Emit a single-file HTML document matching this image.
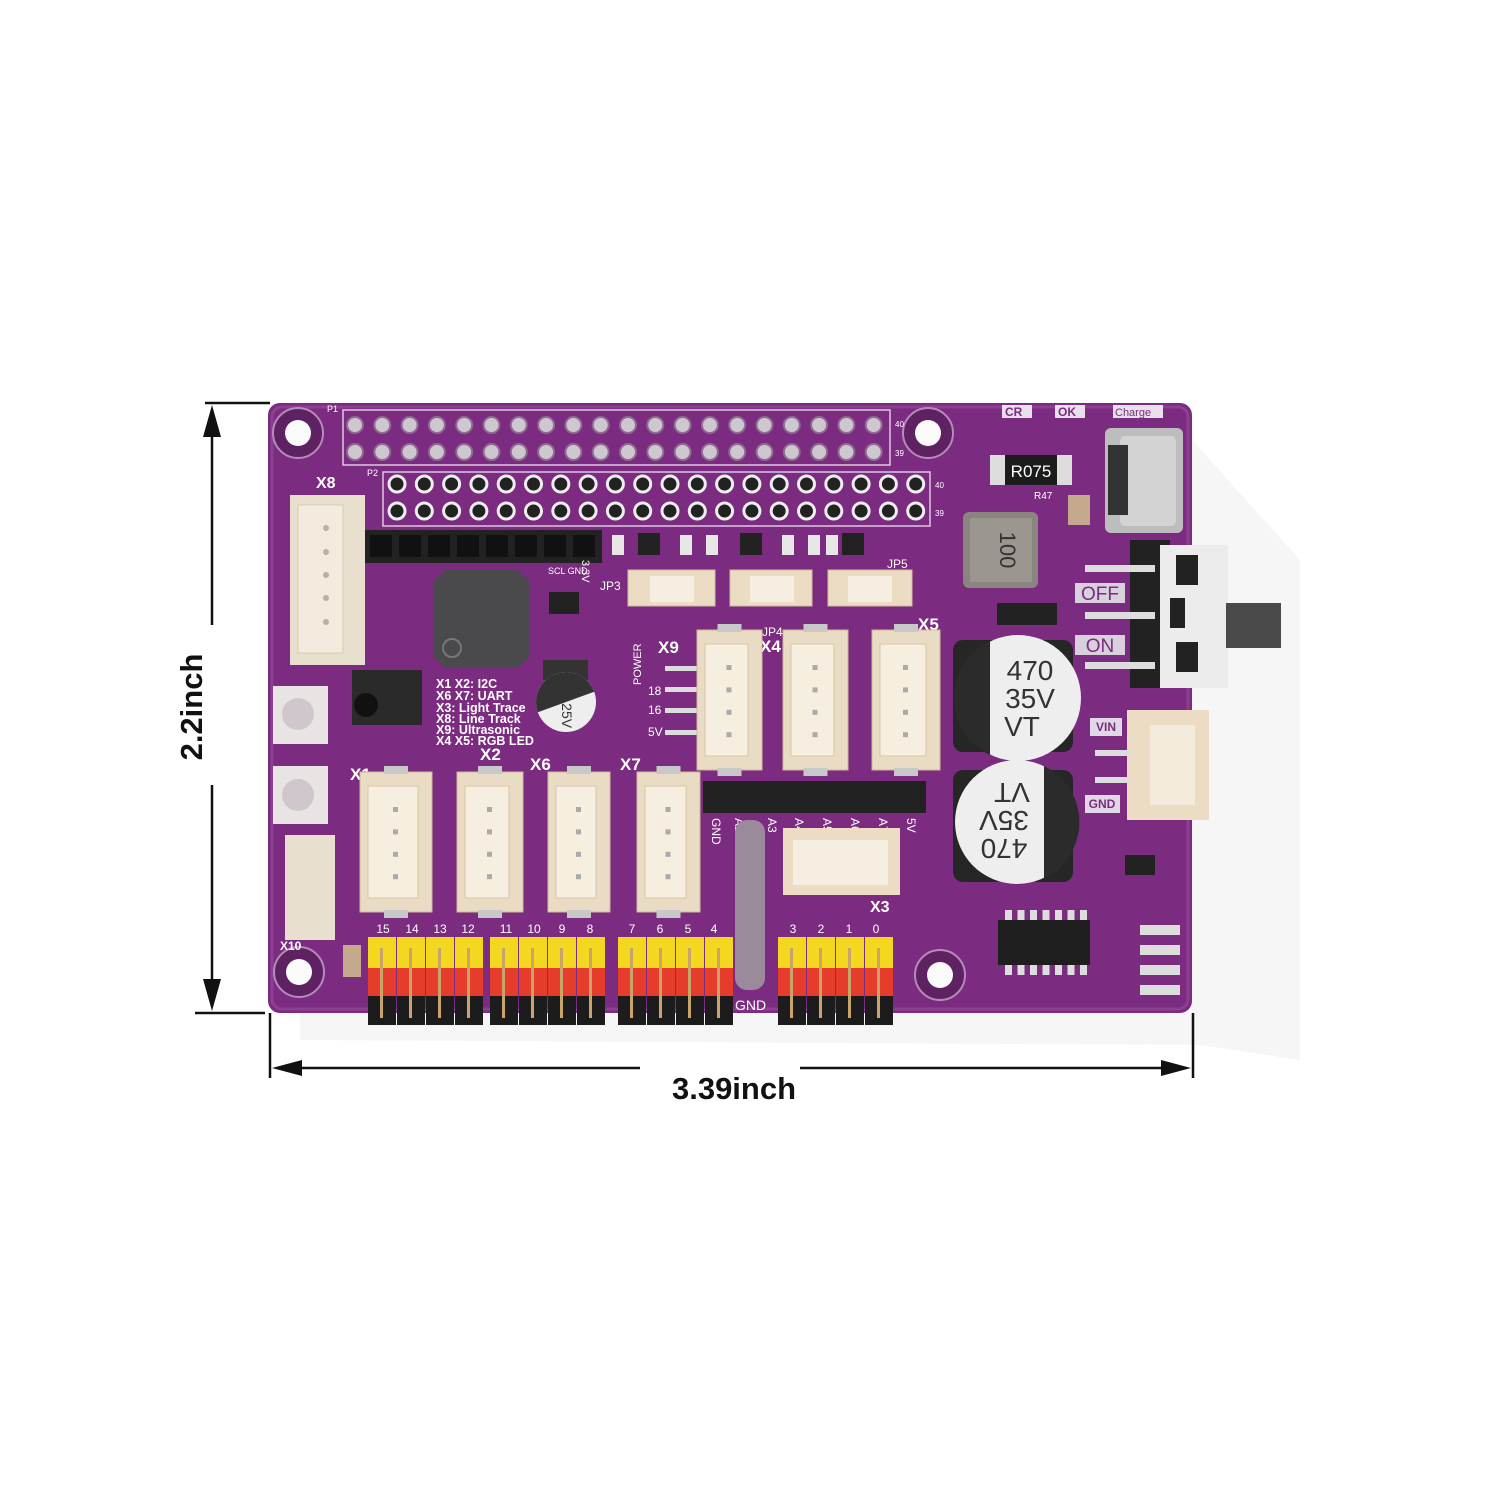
<!DOCTYPE html>
<html><head><meta charset="utf-8"><style>
html,body{margin:0;padding:0;background:#fff;}
svg{display:block}
text{font-family:"Liberation Sans",sans-serif;}
</style></head><body>
<svg id="s" width="1500" height="1500" viewBox="0 0 1500 1500" xmlns="http://www.w3.org/2000/svg">
<!-- shadow -->
<polygon points="1192,440 1300,560 1300,1060 1200,1045 300,1040 300,1013 1192,1013" fill="#f6f6f6"/>
<!-- board -->
<rect x="268" y="403" width="924" height="610" rx="12" fill="#7b2b80"/>
<rect x="272" y="407" width="916" height="602" rx="10" fill="none" stroke="#8e3f92" stroke-width="3"/>
<!-- mounting holes -->
<g fill="#5e2262" stroke="#b58cb8" stroke-width="2">
<circle cx="298" cy="433" r="25"/><circle cx="928" cy="433" r="25"/><circle cx="299" cy="972" r="25"/><circle cx="940" cy="975" r="25"/></g>
<g fill="#fafafa"><circle cx="298" cy="433" r="13"/><circle cx="928" cy="433" r="13"/><circle cx="299" cy="972" r="13"/><circle cx="940" cy="975" r="13"/></g>
<!-- P1 / P2 outlines -->
<rect x="343" y="410" width="547" height="55" fill="none" stroke="#e0c8e2" stroke-width="1.5"/>
<rect x="383" y="472" width="547" height="54" fill="none" stroke="#e0c8e2" stroke-width="1.5"/>
<text x="327" y="412" font-size="9" fill="#fff">P1</text><text x="367" y="476" font-size="9" fill="#fff">P2</text>
<text x="895" y="427" font-size="8" fill="#fff">40</text><text x="895" y="456" font-size="8" fill="#fff">39</text>
<text x="935" y="488" font-size="8" fill="#fff">40</text><text x="935" y="516" font-size="8" fill="#fff">39</text>
<g id="pins"></g>
<!-- black female header -->
<rect x="365" y="530" width="237" height="33" fill="#222"/>
<g id="fh"></g>
<text x="548" y="574" font-size="9" fill="#fff">SCL GND</text>
<text x="582" y="560" font-size="11" fill="#fff" transform="rotate(90 582 560)">3.3V</text>
<!-- X8 connector -->
<text x="316" y="488" font-size="16" font-weight="bold" fill="#fff">X8</text>
<rect x="290" y="495" width="75" height="170" fill="#e9dfcf"/>
<rect x="298" y="505" width="45" height="148" fill="#f3ebdd" stroke="#d8c9b2"/>
<g fill="#b8b0a0"><circle cx="326" cy="528" r="3"/><circle cx="326" cy="552" r="3"/><circle cx="326" cy="575" r="3"/><circle cx="326" cy="598" r="3"/><circle cx="326" cy="622" r="3"/></g>
<!-- buzzer -->
<polygon points="445,570 518,570 530,582 530,656 518,668 445,668 433,656 433,582" fill="#4a4a4c"/>
<circle cx="452" cy="648" r="9" fill="none" stroke="#777" stroke-width="2"/>
<!-- small IR -->
<rect x="352" y="670" width="70" height="55" fill="#2a2a2a"/><circle cx="366" cy="705" r="12" fill="#111"/>
<!-- RGB LEDs left -->
<rect x="273" y="686" width="55" height="58" fill="#e8e4e4"/><circle cx="298" cy="714" r="16" fill="#cfc7cc"/>
<rect x="273" y="766" width="55" height="58" fill="#e8e4e4"/><circle cx="298" cy="795" r="16" fill="#cfc7cc"/>
<!-- X10 -->
<rect x="285" y="835" width="50" height="105" fill="#e9dfcf"/>
<text x="280" y="950" font-size="12" font-weight="bold" fill="#fff">X10</text>
<!-- text block -->
<g font-size="12.5" font-weight="bold" fill="#fff">
<text x="436" y="688">X1 X2: I2C</text><text x="436" y="700">X6 X7: UART</text>
<text x="436" y="712">X3: Light Trace</text><text x="436" y="723">X8: Line Track</text>
<text x="436" y="734">X9: Ultrasonic</text><text x="436" y="745">X4 X5: RGB LED</text></g>
<!-- cap 100 -->
<rect x="543" y="660" width="45" height="20" fill="#333"/>
<circle cx="566" cy="702" r="30" fill="#eee"/>
<path d="M536,702 A30,30 0 0 1 596,702 Z" fill="#333" transform="rotate(-20 566 702)"/>
<text x="566" y="706" font-size="14" fill="#333" text-anchor="middle" transform="rotate(90 566 702)">100 25V</text>
<!-- JP connectors -->
<g fill="#ecdcc3" stroke="#d0bb9c">
<rect x="628" y="570" width="87" height="36"/><rect x="730" y="570" width="82" height="36"/><rect x="828" y="570" width="84" height="36"/></g>
<g fill="#f6eee0"><rect x="650" y="576" width="44" height="26"/><rect x="750" y="576" width="44" height="26"/><rect x="848" y="576" width="44" height="26"/></g>
<text x="600" y="590" font-size="12" fill="#fff">JP3</text><text x="762" y="636" font-size="12" fill="#fff">JP4</text><text x="887" y="568" font-size="12" fill="#fff">JP5</text>
<!-- SMD small parts -->
<g fill="#222"><rect x="638" y="533" width="22" height="22"/><rect x="740" y="533" width="22" height="22"/><rect x="842" y="533" width="22" height="22"/><rect x="549" y="592" width="30" height="22"/></g>
<g fill="#e7e7e7"><rect x="612" y="535" width="12" height="20"/><rect x="680" y="535" width="12" height="20"/><rect x="706" y="535" width="12" height="20"/><rect x="782" y="535" width="12" height="20"/><rect x="808" y="535" width="12" height="20"/><rect x="826" y="535" width="12" height="20"/></g>
<!-- POWER and side pins -->
<text x="641" y="685" font-size="11" fill="#fff" transform="rotate(-90 641 685)">POWER</text>
<text x="648" y="695" font-size="12" fill="#fff">18</text><text x="648" y="714" font-size="12" fill="#fff">16</text><text x="648" y="736" font-size="12" fill="#fff">5V</text>
<g fill="#ddd"><rect x="665" y="666" width="35" height="5"/><rect x="665" y="687" width="35" height="5"/><rect x="665" y="708" width="35" height="5"/><rect x="665" y="730" width="35" height="5"/></g>
<!-- X9 X4 X5 -->
<text x="658" y="653" font-size="17" font-weight="bold" fill="#fff">X9</text>
<text x="760" y="652" font-size="17" font-weight="bold" fill="#fff">X4</text>
<text x="918" y="630" font-size="17" font-weight="bold" fill="#fff">X5</text>
<g id="conns"></g>
<!-- black 8 pin header -->
<rect x="703" y="781" width="223" height="32" fill="#222"/>
<g font-size="12" fill="#fff">
<text x="712" y="818" transform="rotate(90 712 818)">GND</text><text x="735" y="818" transform="rotate(90 735 818)">A2</text>
<text x="768" y="818" transform="rotate(90 768 818)">A3</text><text x="795" y="818" transform="rotate(90 795 818)">A4</text>
<text x="823" y="818" transform="rotate(90 823 818)">A5</text><text x="851" y="818" transform="rotate(90 851 818)">A6</text>
<text x="879" y="818" transform="rotate(90 879 818)">A7</text><text x="907" y="818" transform="rotate(90 907 818)">5V</text></g>
<rect x="735" y="820" width="30" height="170" rx="12" fill="#9a8a9c"/>
<!-- X3 -->
<rect x="783" y="828" width="117" height="67" fill="#ecdcc3"/><rect x="793" y="840" width="95" height="45" fill="#f6eee0"/>
<text x="870" y="912" font-size="16" font-weight="bold" fill="#fff">X3</text>
<!-- inductor, R075 -->
<rect x="963" y="512" width="75" height="76" rx="6" fill="#8a8580"/><rect x="970" y="518" width="62" height="64" fill="#9b9690"/>
<text x="1000" y="550" font-size="22" fill="#333" text-anchor="middle" transform="rotate(90 1000 550)">100</text>
<rect x="990" y="455" width="82" height="30" fill="#ddd"/><rect x="1005" y="455" width="52" height="30" fill="#1c1c1c"/>
<text x="1031" y="477" font-size="17" fill="#fff" text-anchor="middle">R075</text>
<rect x="997" y="603" width="60" height="22" fill="#222"/>
<!-- labels top right -->
<rect x="1002" y="405" width="30" height="13" fill="#e8e0ea"/><text x="1005" y="416" font-size="12" fill="#7b2b80" font-weight="bold">CR</text>
<rect x="1055" y="405" width="30" height="13" fill="#e8e0ea"/><text x="1058" y="416" font-size="12" fill="#7b2b80" font-weight="bold">OK</text>
<rect x="1113" y="405" width="50" height="13" fill="#e8e0ea"/><text x="1115" y="416" font-size="11" fill="#7b2b80">Charge</text>
<text x="1034" y="499" font-size="10" fill="#fff">R47</text>
<!-- USB-C -->
<rect x="1105" y="428" width="78" height="105" rx="6" fill="#bdbdbd"/><rect x="1120" y="436" width="56" height="90" rx="5" fill="#d3d3d3"/>
<rect x="1108" y="445" width="20" height="70" fill="#333"/>
<rect x="1068" y="495" width="22" height="30" fill="#c4a98c"/>
<!-- switch -->
<rect x="1130" y="540" width="40" height="148" fill="#222"/>
<rect x="1160" y="545" width="68" height="143" fill="#ececec"/>
<rect x="1176" y="555" width="22" height="30" fill="#222"/><rect x="1176" y="642" width="22" height="30" fill="#222"/>
<rect x="1170" y="598" width="15" height="30" fill="#222"/>
<rect x="1226" y="603" width="55" height="45" fill="#4a4a4a"/>
<g fill="#ddd"><rect x="1085" y="565" width="70" height="7"/><rect x="1085" y="612" width="70" height="7"/><rect x="1085" y="662" width="70" height="7"/></g>
<rect x="1075" y="583" width="50" height="20" fill="#d8d0dc"/><text x="1100" y="600" font-size="19" fill="#7b2b80" text-anchor="middle">OFF</text>
<rect x="1075" y="635" width="50" height="20" fill="#d8d0dc"/><text x="1100" y="652" font-size="19" fill="#7b2b80" text-anchor="middle">ON</text>
<!-- big caps -->
<rect x="953" y="640" width="120" height="112" rx="10" fill="#262626"/>
<rect x="953" y="770" width="120" height="112" rx="10" fill="#262626"/>
<circle cx="1018" cy="698" r="63" fill="#eee"/><path d="M990,641 A63,63 0 0 0 990,755 Z" fill="#2b2b2b"/>
<text x="1030" y="680" font-size="28" fill="#333" text-anchor="middle">470</text><text x="1030" y="708" font-size="28" fill="#333" text-anchor="middle">35V</text><text x="1022" y="736" font-size="28" fill="#333" text-anchor="middle">VT</text>
<circle cx="1017" cy="822" r="62" fill="#eee"/><path d="M1044,766 A62,62 0 0 1 1044,878 Z" fill="#2b2b2b"/>
<g transform="rotate(180 1017 822)"><text x="1030" y="805" font-size="28" fill="#333" text-anchor="middle">470</text><text x="1030" y="833" font-size="28" fill="#333" text-anchor="middle">35V</text><text x="1022" y="861" font-size="28" fill="#333" text-anchor="middle">VT</text></g>
<!-- VIN connector -->
<rect x="1090" y="718" width="32" height="18" fill="#e0d8e4"/><text x="1106" y="731" font-size="12" font-weight="bold" fill="#7b2b80" text-anchor="middle">VIN</text>
<rect x="1085" y="795" width="35" height="18" fill="#e0d8e4"/><text x="1102" y="808" font-size="12" font-weight="bold" fill="#7b2b80" text-anchor="middle">GND</text>
<rect x="1127" y="710" width="82" height="110" fill="#ecdcc3"/><rect x="1150" y="725" width="45" height="80" fill="#f4ebdd"/>
<g fill="#ddd"><rect x="1095" y="750" width="35" height="6"/><rect x="1095" y="777" width="35" height="6"/></g>
<!-- IC U5 -->
<rect x="998" y="920" width="92" height="45" fill="#1e1e1e"/>
<g id="icp"></g>
<g fill="#ddd"><rect x="1140" y="925" width="40" height="10"/><rect x="1140" y="945" width="40" height="10"/><rect x="1140" y="965" width="40" height="10"/><rect x="1140" y="985" width="40" height="10"/></g>
<rect x="1125" y="855" width="30" height="20" fill="#222"/>
<!-- X1 X2 X6 X7 -->
<text x="350" y="780" font-size="17" font-weight="bold" fill="#fff">X1</text>
<text x="480" y="760" font-size="17" font-weight="bold" fill="#fff">X2</text>
<text x="530" y="770" font-size="17" font-weight="bold" fill="#fff">X6</text>
<text x="620" y="770" font-size="17" font-weight="bold" fill="#fff">X7</text>
<g id="conns2"></g>
<!-- pin headers bottom -->
<g id="hdr"></g>
<g font-size="12" fill="#fff" text-anchor="middle">
<text x="383" y="933">15</text><text x="412" y="933">14</text><text x="440" y="933">13</text><text x="468" y="933">12</text>
<text x="506" y="933">11</text><text x="534" y="933">10</text><text x="562" y="933">9</text><text x="590" y="933">8</text>
<text x="632" y="933">7</text><text x="660" y="933">6</text><text x="688" y="933">5</text><text x="714" y="933">4</text>
<text x="793" y="933">3</text><text x="821" y="933">2</text><text x="849" y="933">1</text><text x="876" y="933">0</text></g>
<text x="735" y="1010" font-size="14" fill="#fff">GND</text>
<rect x="343" y="945" width="18" height="32" fill="#c4a98c"/>
<!-- dimension lines -->
<g stroke="#111" stroke-width="2.5" fill="none">
<line x1="205" y1="403" x2="270" y2="403"/><line x1="195" y1="1013" x2="265" y2="1013"/>
<line x1="212" y1="410" x2="212" y2="625"/><line x1="212" y1="785" x2="212" y2="1005"/>
<line x1="270" y1="1013" x2="270" y2="1078"/><line x1="1193" y1="1013" x2="1193" y2="1078"/>
<line x1="278" y1="1068" x2="640" y2="1068"/><line x1="800" y1="1068" x2="1186" y2="1068"/></g>
<g fill="#111">
<polygon points="212,405 203,437 221,437"/><polygon points="212,1011 203,979 221,979"/>
<polygon points="272,1068 302,1060 302,1076"/><polygon points="1191,1068 1161,1060 1161,1076"/></g>
<text x="734" y="1099" font-size="31" font-weight="bold" fill="#111" text-anchor="middle">3.39inch</text>
<text x="202" y="707" font-size="31" font-weight="bold" fill="#111" text-anchor="middle" transform="rotate(-90 202 707)">2.2inch</text>
</svg>
<script>
var NS="http://www.w3.org/2000/svg";
function el(p,t,a){var e=document.createElementNS(NS,t);for(var k in a)e.setAttribute(k,a[k]);document.getElementById(p).appendChild(e);return e;}
for(var i=0;i<20;i++){var x=355+i*27.3;
 el("pins","circle",{cx:x,cy:425,r:8,fill:"#cfc7d0",stroke:"#8d6a90","stroke-width":2});
 el("pins","circle",{cx:x,cy:452,r:8,fill:"#cfc7d0",stroke:"#8d6a90","stroke-width":2});
 var x2=397+i*27.3;
 el("pins","circle",{cx:x2,cy:484,r:8,fill:"#222",stroke:"#eee","stroke-width":3});
 el("pins","circle",{cx:x2,cy:511,r:8,fill:"#222",stroke:"#eee","stroke-width":3});}
for(var i=0;i<8;i++){el("fh","rect",{x:370+i*29,y:535,width:22,height:22,fill:"#111"});}
for(var i=0;i<8;i++){el("fh","rect",{x:709+i*27.5,y:786,width:20,height:22,fill:"#111"});}
function conn(g,x,y,w,h){el(g,"rect",{x:x,y:y,width:w,height:h,fill:"#eadcc4",stroke:"#cdb897"});
 el(g,"rect",{x:x+8,y:y+14,width:w-22,height:h-28,fill:"#f6eedf",stroke:"#d8c7aa"});
 for(var j=0;j<4;j++)el(g,"rect",{x:x+w/2-3,y:y+h*0.25+j*h*0.16,width:5,height:5,fill:"#aaa"});
 el(g,"rect",{x:x+w/2-12,y:y-6,width:24,height:8,fill:"#c8c8c8"});el(g,"rect",{x:x+w/2-12,y:y+h-2,width:24,height:8,fill:"#c8c8c8"});}
conn("conns",697,630,65,140);conn("conns",783,630,65,140);conn("conns",872,630,68,140);
conn("conns2",360,772,72,140);conn("conns2",457,772,66,140);conn("conns2",548,772,62,140);conn("conns2",637,772,63,140);
var gs=[368,490,618,778];
for(var g=0;g<4;g++)for(var i=0;i<4;i++){var x=gs[g]+i*29;
 el("hdr","rect",{x:x,y:937,width:28,height:31,fill:"#f3d81f"});
 el("hdr","rect",{x:x,y:968,width:28,height:28,fill:"#e53c2c"});
 el("hdr","rect",{x:x,y:996,width:28,height:29,fill:"#1c1c1c"});
 el("hdr","rect",{x:x+12,y:948,width:3,height:70,fill:"#c9a46a"});}
for(var i=0;i<7;i++){el("icp","rect",{x:1005+i*12.5,y:910,width:7,height:10,fill:"#ddd"});el("icp","rect",{x:1005+i*12.5,y:965,width:7,height:10,fill:"#ddd"});}
</script>
</body></html>
